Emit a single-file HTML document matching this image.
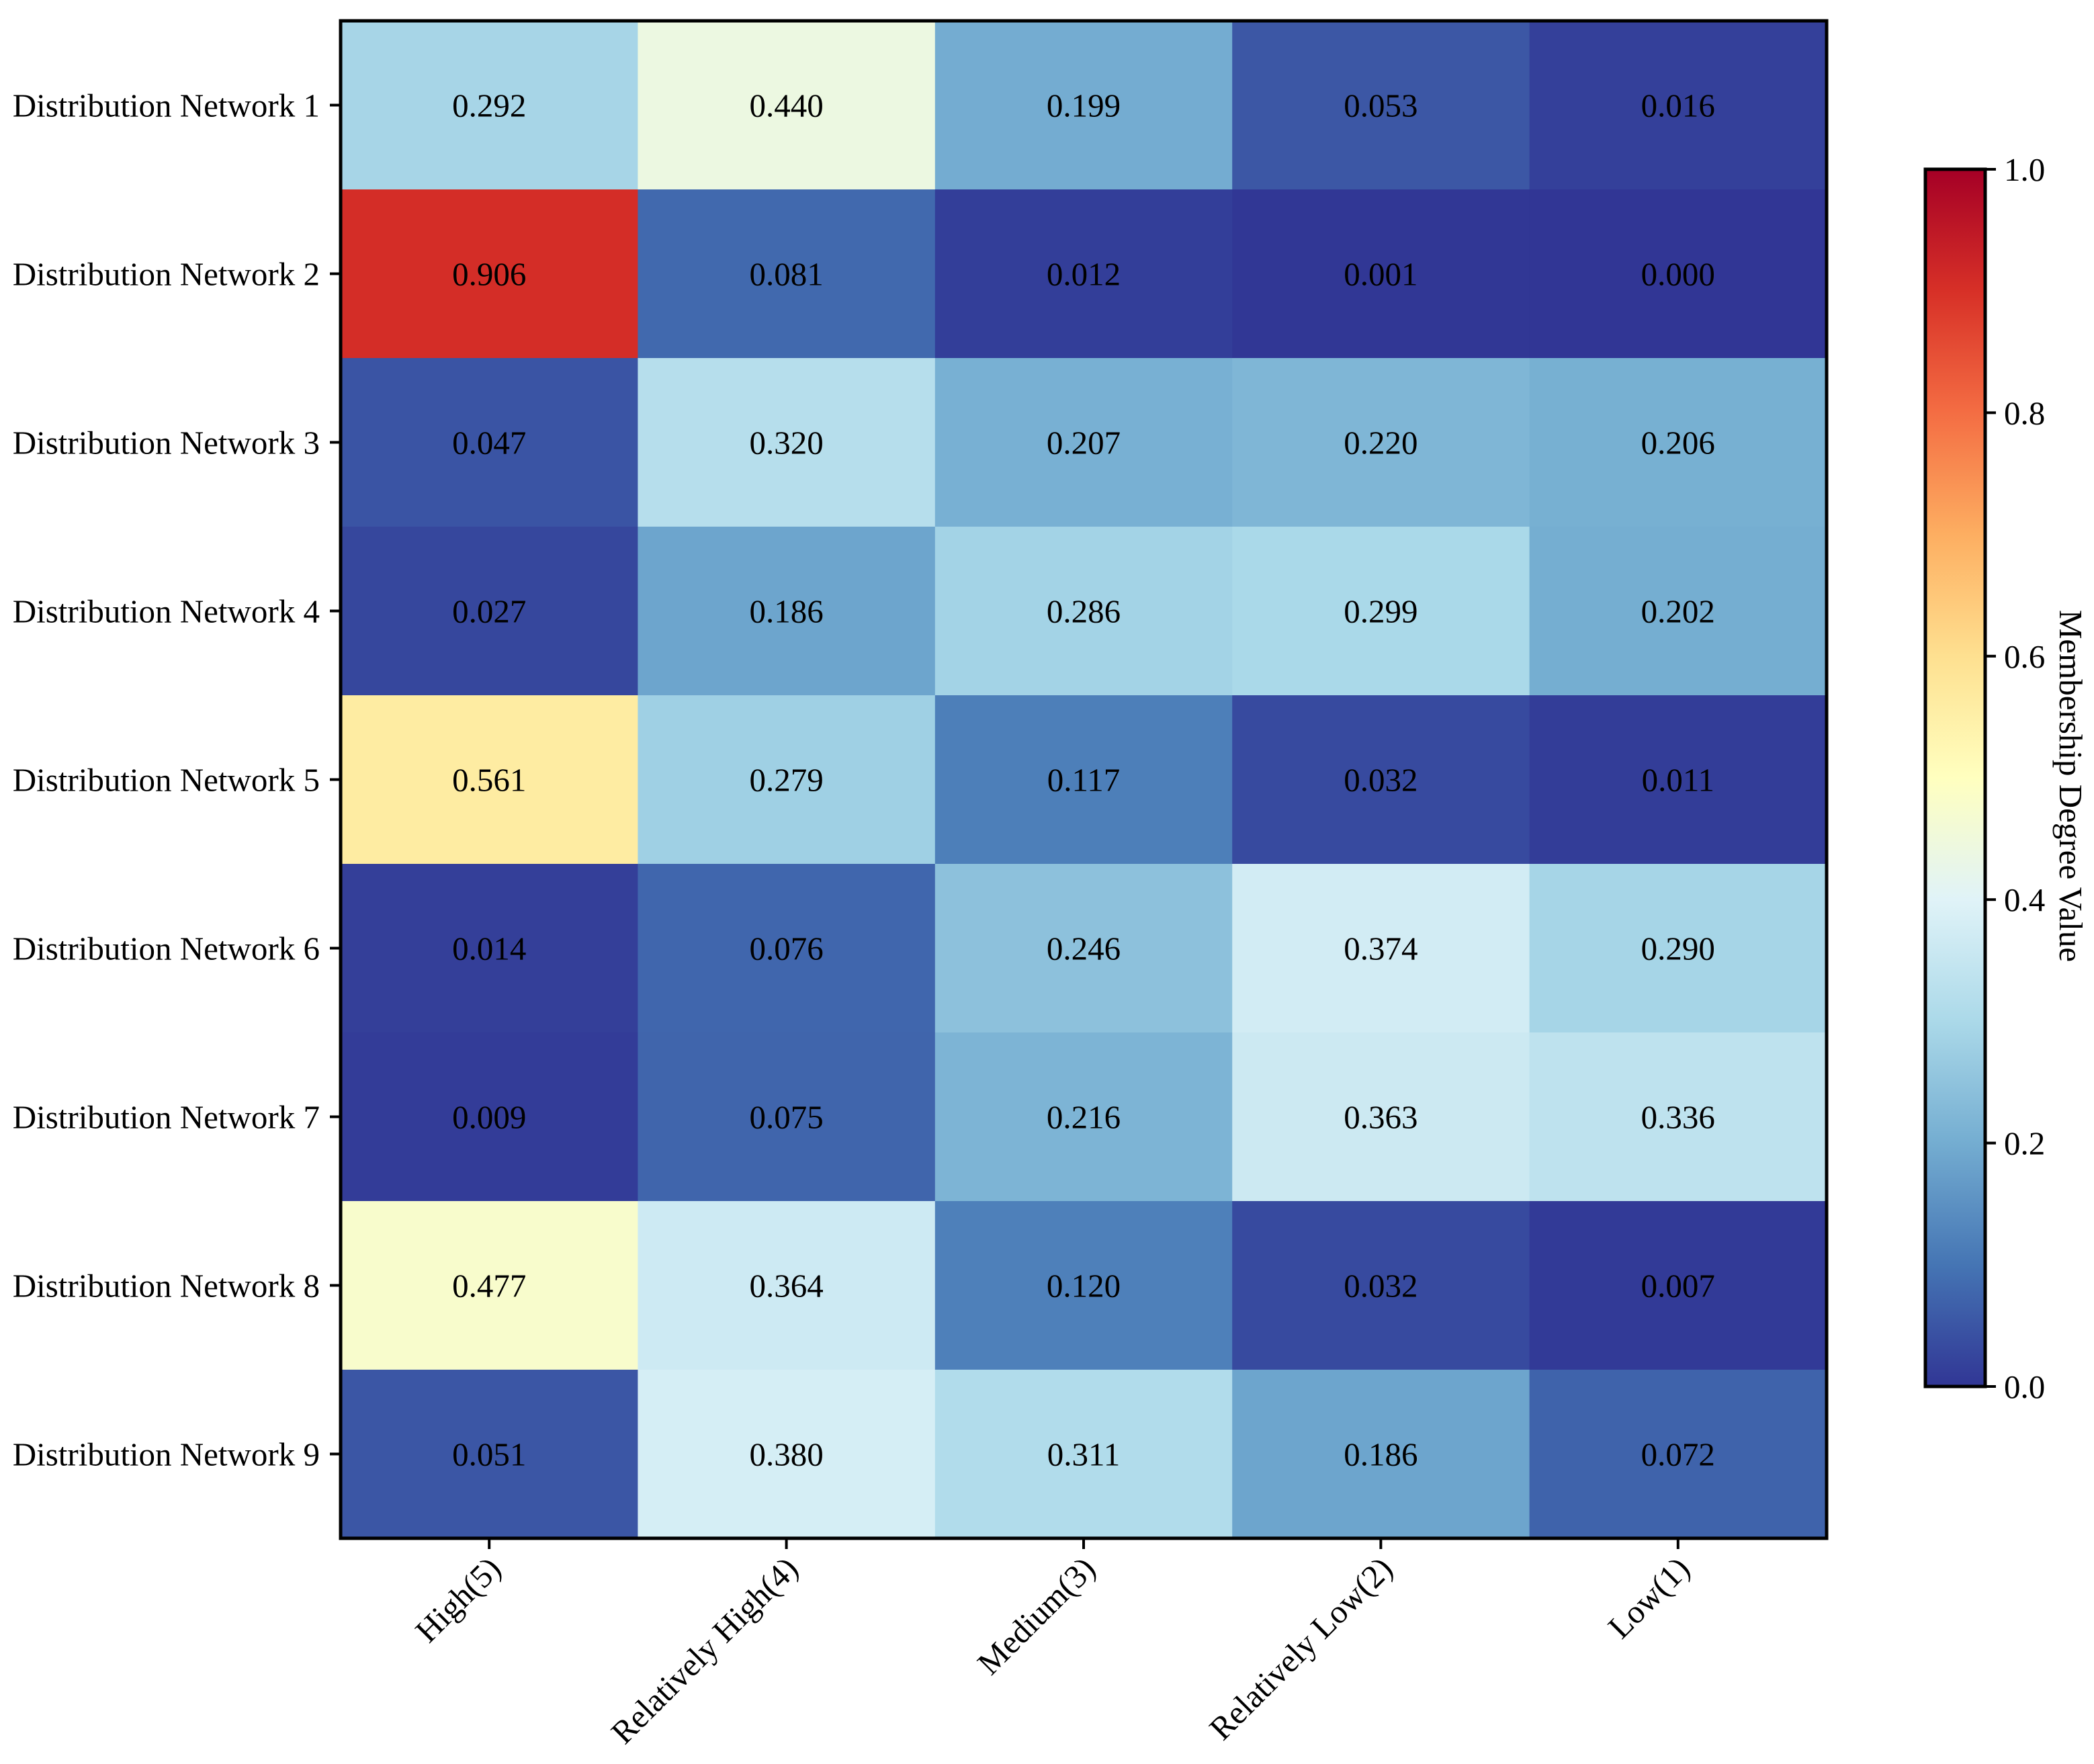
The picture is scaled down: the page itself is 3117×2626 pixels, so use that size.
<!DOCTYPE html>
<html><head><meta charset="utf-8"><style>
html,body{margin:0;padding:0;background:#fff;}
svg{display:block;font-family:"Liberation Serif","Times New Roman",serif;}
</style></head><body>
<svg id="chart" width="3117" height="2626" viewBox="0 0 3117 2626" xmlns="http://www.w3.org/2000/svg">
<defs><linearGradient id="cbgrad" x1="0" y1="1" x2="0" y2="0"></linearGradient></defs>
<g id="cells"></g>
<g id="yaxis"></g>
<g id="xaxis"></g>
<rect x="507" y="31" width="2212" height="2259" fill="none" stroke="#000" stroke-width="5"/>
<g id="cbar"></g>
<text x="0" y="0" transform="translate(3066,1170) rotate(90)" text-anchor="middle" font-size="49">Membership Degree Value</text>
</svg>
<script>
const rows = ["Distribution Network 1","Distribution Network 2","Distribution Network 3","Distribution Network 4","Distribution Network 5","Distribution Network 6","Distribution Network 7","Distribution Network 8","Distribution Network 9"];
const cols = ["High(5)","Relatively High(4)","Medium(3)","Relatively Low(2)","Low(1)"];
const values = [
[0.292,0.440,0.199,0.053,0.016],
[0.906,0.081,0.012,0.001,0.000],
[0.047,0.320,0.207,0.220,0.206],
[0.027,0.186,0.286,0.299,0.202],
[0.561,0.279,0.117,0.032,0.011],
[0.014,0.076,0.246,0.374,0.290],
[0.009,0.075,0.216,0.363,0.336],
[0.477,0.364,0.120,0.032,0.007],
[0.051,0.380,0.311,0.186,0.072]
];
const cbTicks = [0.0,0.2,0.4,0.6,0.8,1.0];
const vmin = 0, vmax = 1;

const NS="http://www.w3.org/2000/svg";
const stops=["#313695","#4575b4","#74add1","#abd9e9","#e0f3f8","#ffffbf","#fee090","#fdae61","#f46d43","#d73027","#a50026"];
function hex(h){return [1,3,5].map(i=>parseInt(h.substr(i,2),16));}
function cmap(v){let t=Math.max(0,Math.min(1,(v-vmin)/(vmax-vmin)))*(stops.length-1);let i=Math.min(Math.floor(t),stops.length-2);let f=t-i;let a=hex(stops[i]),b=hex(stops[i+1]);return "rgb("+a.map((x,k)=>Math.round(x+(b[k]-x)*f)).join(",")+")";}
const X0=507,X1=2719,Y0=31,Y1=2290;
const cw=(X1-X0)/cols.length, rh=(Y1-Y0)/rows.length;
const xPos=j=>X0+j*cw, yPos=i=>Y0+i*rh;
function el(tag,attrs,parent){const e=document.createElementNS(NS,tag);for(const k in attrs)e.setAttribute(k,attrs[k]);parent.appendChild(e);return e;}
const cells=document.getElementById('cells');
values.forEach((row,i)=>row.forEach((v,j)=>{
  const r=el('rect',{x:xPos(j),y:yPos(i),width:cw+0.5,height:rh+0.5,fill:cmap(v)},cells);
  
  
  const t=el('text',{x:xPos(j)+cw/2,y:yPos(i)+rh/2+17,'text-anchor':'middle','font-size':49},cells);
  
  
  t.textContent=v.toFixed(3);
}));
const ya=document.getElementById('yaxis');
rows.forEach((name,i)=>{
  const cy=yPos(i)+rh/2;
  const tk=el('line',{x1:X0-16,x2:X0,y1:cy,y2:cy,stroke:'#000','stroke-width':4},ya);
  
  
  const t=el('text',{x:476,y:cy+17,'text-anchor':'end','font-size':49},ya);
  
  
  t.textContent=name;
});
const xa=document.getElementById('xaxis');
cols.forEach((name,j)=>{
  const cx=xPos(j)+cw/2;
  const tk=el('line',{x1:cx,x2:cx,y1:Y1,y2:Y1+16,stroke:'#000','stroke-width':4},xa);
  
  
  const t=el('text',{x:0,y:0,'text-anchor':'end','font-size':49,transform:'translate('+(cx+20)+','+(Y1+48)+') rotate(-45)'},xa);
  
  
  t.textContent=name;
});
const g=document.getElementById('cbgrad');
stops.forEach((c,k)=>{el('stop',{offset:(k/(stops.length-1)),'stop-color':c},g);});
const cb=document.getElementById('cbar');
const CX0=2866,CX1=2955,CY0=252,CY1=2064;
const cbY=v=>CY1-(v-vmin)/(vmax-vmin)*(CY1-CY0);
const cr=el('rect',{x:CX0,y:CY0,width:CX1-CX0,height:CY1-CY0,fill:'url(#cbgrad)',stroke:'#000','stroke-width':5},cb);


cbTicks.forEach(v=>{
  const y=cbY(v);
  const tk=el('line',{x1:CX1,x2:CX1+16,y1:y,y2:y,stroke:'#000','stroke-width':4},cb);
  
  
  const t=el('text',{x:CX1+28,y:y+17,'font-size':49},cb);
  
  
  t.textContent=v.toFixed(1);
});
</script>
</body></html>
